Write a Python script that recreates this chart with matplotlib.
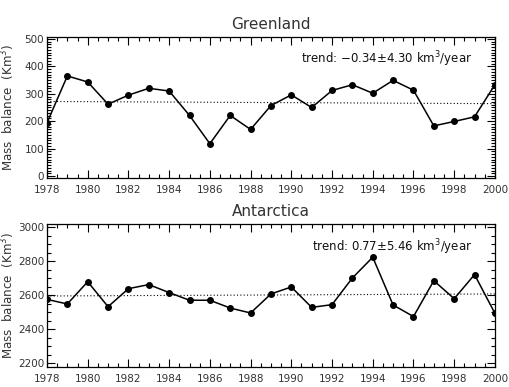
import matplotlib
matplotlib.use("Agg")
import matplotlib.pyplot as plt
from matplotlib.ticker import MultipleLocator

years = list(range(1978, 2001))
greenland = [194, 365, 343, 262, 295, 320, 310, 221, 118, 221, 170, 257, 296,
             250, 312, 333, 302, 349, 313, 183, 199, 216, 333]
antarctica = [2576, 2549, 2680, 2533, 2639, 2663, 2616, 2571, 2571, 2525, 2496,
              2608, 2649, 2529, 2545, 2702, 2824, 2543, 2475, 2686, 2580, 2722, 2494]
greenland_trend = [272, 264]
antarctica_trend = [2596, 2608]
titles = ["Greenland", "Antarctica"]
trend_texts = ["trend: $-$0.34$\\pm$4.30 km$^3$/year", "trend: 0.77$\\pm$5.46 km$^3$/year"]

plt.rcParams['font.family'] = ['DejaVu Sans']
plt.rcParams['mathtext.default'] = 'regular'
txtc = '#333333'

fig = plt.figure(figsize=(5.09, 3.87), dpi=100)
ax1 = fig.add_axes([0.0923, 0.5408, 0.880, 0.3636])
ax2 = fig.add_axes([0.0923, 0.0525, 0.880, 0.368])

cfg = [
    (ax1, greenland, greenland_trend, (-6, 507), 100, 10),
    (ax2, antarctica, antarctica_trend, (2180, 3018), 200, 50),
]
for i, (ax, vals, tr, ylim, maj, mnr) in enumerate(cfg):
    ax.plot(years, vals, color='black', lw=1.1, marker='o', ms=4, clip_on=True, zorder=3)
    ax.plot([years[0], years[-1]], tr, color='black', lw=0.8, ls=(0, (1, 2)), zorder=2)
    ax.set_xlim(1978, 2000)
    ax.set_ylim(*ylim)
    ax.xaxis.set_major_locator(MultipleLocator(2))
    ax.xaxis.set_minor_locator(MultipleLocator(0.5))
    ax.yaxis.set_major_locator(MultipleLocator(maj))
    ax.yaxis.set_minor_locator(MultipleLocator(mnr))
    ax.tick_params(which='both', direction='in', top=True, right=True,
                   labelsize=7.5, labelcolor=txtc, width=0.8)
    ax.tick_params(which='major', length=6)
    ax.tick_params(axis='x', which='major', pad=5)
    ax.tick_params(axis='y', which='major', pad=2)
    ax.tick_params(which='minor', length=3)
    for s in ax.spines.values():
        s.set_linewidth(0.9)
    ax.set_title(titles[i], fontsize=11, color=txtc, pad=6)
    ax.set_ylabel('Mass  balance  (Km$^3$)', fontsize=8.6, color=txtc)
    ax.yaxis.set_label_coords(-0.066, 0.5)
    ax.text(0.95, 0.84, trend_texts[i], transform=ax.transAxes, ha='right',
            va='center', fontsize=8.5, color='#111111')

fig.savefig('out.png', dpi=100)
